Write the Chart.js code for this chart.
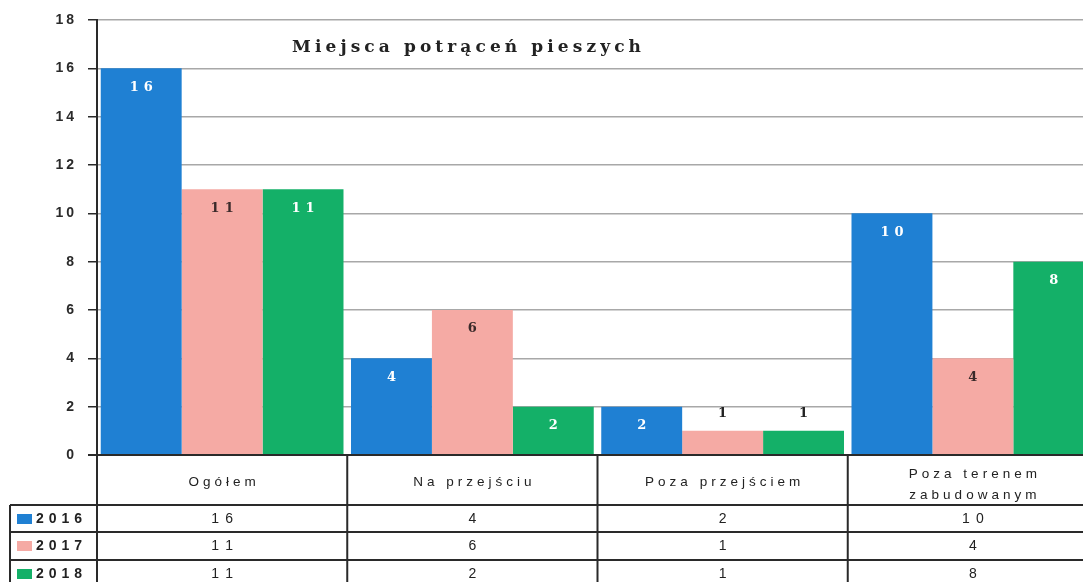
<!DOCTYPE html>
<html><head><meta charset="utf-8">
<script src="https://cdn.jsdelivr.net/npm/chart.js@4/dist/chart.umd.min.js"></script>
<style>html,body{margin:0;padding:0;background:#fff;overflow:hidden;width:1083px;height:582px}#wrap{width:1098px;height:582px}</style>
</head><body><div id="wrap"><canvas id="c" width="1098" height="582"></canvas></div>
<script>
const categories = ['Ogółem', 'Na przejściu', 'Poza przejściem', ['Poza terenem', 'zabudowanym']];
const years = ['2016', '2017', '2018'];
const values2016 = [16, 4, 2, 10];
const values2017 = [11, 6, 1, 4];
const values2018 = [11, 2, 1, 8];
const yMin = 0, yMax = 18, yStep = 2;
const chartTitle = 'Miejsca potrąceń pieszych';

const colors = ['#1f80d3', '#f5aaa4', '#14b068'];
const labelColors = ['#ffffff', '#3a2a2a', '#ffffff'];

function spaced(ctx, text, x, y, sp, align) {
  const chars = Array.from(String(text));
  let w = 0;
  chars.forEach((c, i) => { w += ctx.measureText(c).width + (i < chars.length - 1 ? sp : 0); });
  let sx = align === 'center' ? x - w / 2 : align === 'right' ? x - w : x;
  ctx.textAlign = 'left';
  chars.forEach(c => { ctx.fillText(c, sx, y); sx += ctx.measureText(c).width + sp; });
}

const extras = {
  id: 'extras',
  afterDatasetsDraw(chart) {
    const ctx = chart.ctx;
    ctx.save();
    ctx.font = 'bold 13px "DejaVu Serif"';
    ctx.textBaseline = 'middle';
    chart.data.datasets.forEach((ds, di) => {
      const meta = chart.getDatasetMeta(di);
      meta.data.forEach((el, i) => {
        const h = el.base - el.y;
        if (h > 30) { ctx.fillStyle = labelColors[di]; spaced(ctx, ds.data[i], el.x, el.y + 19, 5, 'center'); }
        else { ctx.fillStyle = '#222'; spaced(ctx, ds.data[i], el.x, el.y - 17, 5, 'center'); }
      });
    });
    ctx.restore();
  },
  afterDraw(chart) {
    const ctx = chart.ctx;
    const a = chart.chartArea;
    const ys = chart.scales.y;
    ctx.save();
    // title
    ctx.fillStyle = '#222';
    ctx.font = 'bold 17px "DejaVu Serif"';
    ctx.textBaseline = 'middle';
    spaced(ctx, chartTitle, 292, 48, 4.1, 'left');
    // y tick labels
    ctx.font = 'bold 14px "Liberation Sans"';
    ctx.fillStyle = '#2a2a2a';
    for (let v = yMin; v <= yMax; v += yStep) {
      spaced(ctx, v, 74, ys.getPixelForValue(v), 3, 'right');
    }
    // table
    const n = categories.length;
    const w = (a.right - a.left) / n;
    const bottom = a.bottom;
    const rows = [505, 532, 560, 588];
    ctx.strokeStyle = '#2a2a2a';
    ctx.lineWidth = 2;
    ctx.beginPath();
    ctx.moveTo(88, bottom); ctx.lineTo(chart.width, bottom);
    for (let i = 0; i < n; i++) { const x = a.left + i * w; ctx.moveTo(x, bottom); ctx.lineTo(x, 582); }
    rows.forEach(r => { ctx.moveTo(10, r); ctx.lineTo(chart.width, r); });
    ctx.moveTo(10, rows[0]); ctx.lineTo(10, 582);
    ctx.stroke();
    // header labels
    ctx.fillStyle = '#222';
    ctx.font = '13.5px "Liberation Sans"';
    categories.forEach((c, i) => {
      const cx = a.left + (i + 0.5) * w;
      if (Array.isArray(c)) {
        spaced(ctx, c[0], cx, 474, 4, 'center');
        spaced(ctx, c[1], cx, 495, 4, 'center');
      } else spaced(ctx, c, cx, 482, 4, 'center');
    });
    // data rows
    const series = [values2016, values2017, values2018];
    const centers = [519, 546, 574];
    series.forEach((vals, r) => {
      ctx.fillStyle = colors[r];
      ctx.fillRect(17, centers[r] - 5, 15, 10);
      ctx.fillStyle = '#222';
      ctx.font = 'bold 14px "Liberation Sans"';
      spaced(ctx, years[r], 36, centers[r], 5, 'left');
      ctx.font = '14px "Liberation Sans"';
      vals.forEach((v, i) => spaced(ctx, v, a.left + (i + 0.5) * w, centers[r], 6, 'center'));
    });
    ctx.restore();
  }
};

new Chart(document.getElementById('c'), {
  type: 'bar',
  data: {
    labels: categories,
    datasets: [
      { label: years[0], data: values2016, backgroundColor: colors[0] },
      { label: years[1], data: values2017, backgroundColor: colors[1] },
      { label: years[2], data: values2018, backgroundColor: colors[2] }
    ]
  },
  options: {
    responsive: false,
    animation: false,
    layout: { padding: { top: 20, bottom: 127, left: 0, right: 0 } },
    plugins: { legend: { display: false }, title: { display: false }, tooltip: { enabled: false } },
    datasets: { bar: { barPercentage: 1, categoryPercentage: 0.97 } },
    scales: {
      x: { display: false, offset: true },
      y: {
        min: yMin, max: yMax,
        ticks: { stepSize: yStep, display: false },
        grid: { color: '#a8a8a8', lineWidth: 1.5, drawTicks: true, tickLength: 9, tickColor: '#2a2a2a' },
        border: { display: true, color: '#2a2a2a', width: 2 },
        afterFit(s) { s.width = 97; }
      }
    }
  },
  plugins: [extras]
});
</script>
</body></html>
